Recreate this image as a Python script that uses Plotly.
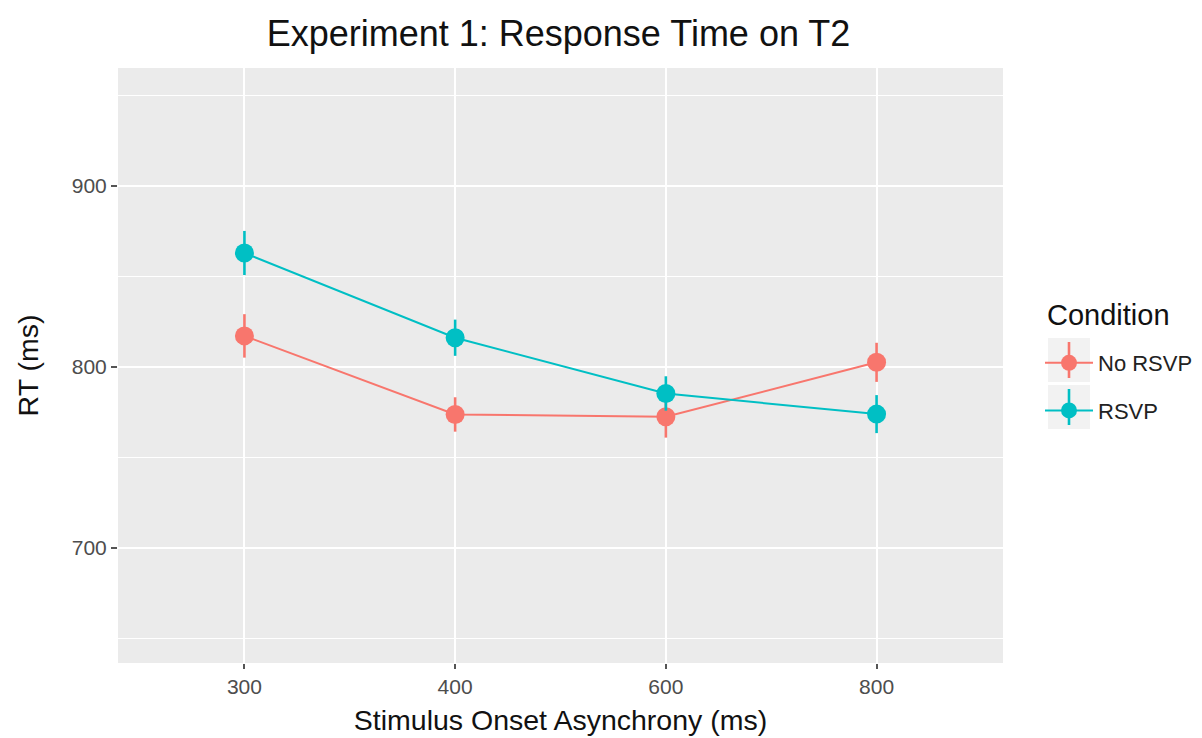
import plotly.graph_objects as go

soa = ["300", "400", "600", "800"]
no_rsvp = [817.2, 773.8, 772.5, 802.6]
no_rsvp_err = [12.0, 9.5, 11.5, 10.8]
rsvp = [863.0, 816.2, 785.4, 774.0]
rsvp_err = [12.2, 10.0, 9.5, 10.5]
conditions = ["No RSVP", "RSVP"]
colors = ["#F8766D", "#00BFC4"]

x_idx = list(range(len(soa)))

L, R, T, B = 118, 199, 68, 75
W, H = 1202, 738
PW, PH = W - L - R, H - T - B


def px_to_paper(x, y):
    return (x - L) / PW, (H - B - y) / PH


fig = go.Figure()
for name, vals, errs, col in zip(conditions, [no_rsvp, rsvp], [no_rsvp_err, rsvp_err], colors):
    fig.add_trace(go.Scatter(
        x=x_idx, y=vals, name=name, mode="lines+markers", legendgroup=name,
        line=dict(color=col, width=2),
        marker=dict(color=col, size=19),
        error_y=dict(type="data", array=errs, color=col, thickness=2.6, width=0),
    ))

# ggplot-style legend key backgrounds and error-bar glyphs
shapes = []
key_centers = [360, 407]
for cy, col in zip(key_centers, colors):
    x0p, y0p = px_to_paper(1048, cy + 22)
    x1p, y1p = px_to_paper(1090, cy - 22)
    shapes.append(dict(type="rect", xref="paper", yref="paper", x0=x0p, x1=x1p,
                       y0=y0p, y1=y1p, fillcolor="#F2F2F2", line=dict(width=0), layer="below"))
    xa, ya = px_to_paper(1069, cy + 18)
    _, yb = px_to_paper(1069, cy - 18)
    shapes.append(dict(type="line", xref="paper", yref="paper", x0=xa, x1=xa, y0=ya, y1=yb,
                       line=dict(color=col, width=2.6), layer="above"))

tx, ty = px_to_paper(1045, 315)

font = "Liberation Sans, Arial, sans-serif"
fig.update_layout(
    width=W, height=H,
    margin=dict(l=L, r=R, t=T, b=B, autoexpand=False),
    paper_bgcolor="white",
    plot_bgcolor="#EBEBEB",
    font=dict(family=font, color="#222222"),
    shapes=shapes,
    annotations=[dict(text="Condition", xref="paper", yref="paper", x=tx, y=ty,
                      xanchor="left", yanchor="middle", showarrow=False,
                      font=dict(size=29, color="#111111"))],
    title=dict(text="Experiment 1: Response Time on T2", x=558.5 / W,
               xanchor="center", y=1 - 33 / H, yanchor="middle",
               font=dict(size=36, color="#111111")),
    xaxis=dict(
        range=[-0.6, 3.6], tickmode="array", tickvals=x_idx, ticktext=soa,
        showgrid=True, gridcolor="white", gridwidth=2.2, zeroline=False,
        ticks="outside", ticklen=5, tickcolor="#555555", tickwidth=1.5,
        tickfont=dict(size=21, color="#4D4D4D"),
        title=dict(text="Stimulus Onset Asynchrony (ms)", font=dict(size=28.5, color="#111111"), standoff=12),
    ),
    yaxis=dict(
        range=[636.5, 965.2], tick0=700, dtick=100,
        showgrid=True, gridcolor="white", gridwidth=2.2, zeroline=False,
        ticks="outside", ticklen=6, tickcolor="#555555", tickwidth=1.5,
        tickfont=dict(size=21, color="#4D4D4D"),
        minor=dict(dtick=50, tick0=650, showgrid=True, gridcolor="white", gridwidth=1),
        title=dict(text="RT (ms)", font=dict(size=28.5, color="#111111"), standoff=24),
    ),
    legend=dict(
        x=px_to_paper(1040, 0)[0], xanchor="left", y=px_to_paper(0, 342)[1], yanchor="top",
        font=dict(size=22, color="#222222"), itemwidth=48,
        bgcolor="rgba(0,0,0,0)", itemsizing="trace", tracegroupgap=16,
    ),
    showlegend=True,
)

fig.write_html("out.html")
